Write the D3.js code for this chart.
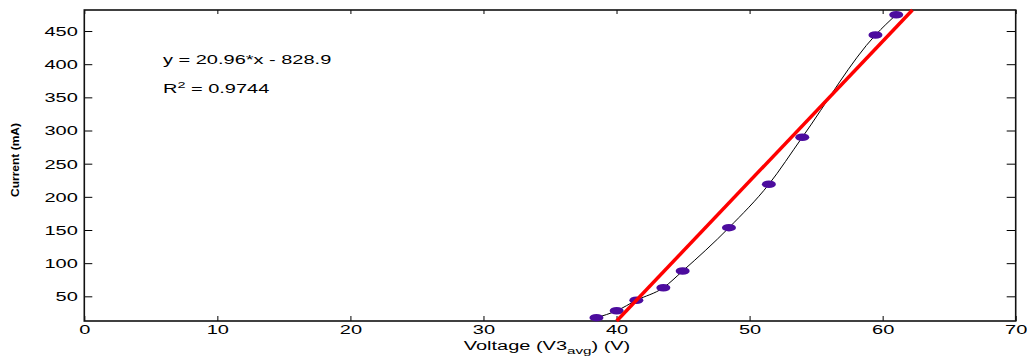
<!DOCTYPE html>
<html>
<head>
<meta charset="utf-8">
<script src="https://cdn.jsdelivr.net/npm/d3@7"></script>
<style>
  body { margin: 0; background: #fff; }
  text { font-family: "Liberation Sans", Arial, sans-serif; fill: #000; }
</style>
</head>
<body>
<div id="chart"></div>
<script>
// measured points (voltage V, current mA)
const voltage = [38.49, 40.01, 41.49, 43.52, 44.97, 48.45, 51.45, 53.96, 59.46, 61.02];
const current = [17.8, 28.3, 44.0, 63.0, 88.2, 153.5, 218.9, 289.8, 444.0, 474.6];
// linear fit, endpoints
const fitX = [40.01, 62.24];
const fitY = [12.8, 481.7];
const xTicks = [0, 10, 20, 30, 40, 50, 60, 70];
const yTicks = [50, 100, 150, 200, 250, 300, 350, 400, 450];
const eqText = "y = 20.96*x - 828.9";
const r2Value = "0.9744";

const W = 1027, H = 358;
const m = { left: 84.3, right: 1015.7, top: 10, bottom: 321 };
const SX = 1.6; // text in the picture is stretched sideways

const svg = d3.select("#chart").append("svg")
    .attr("width", W).attr("height", H);

const x = d3.scaleLinear().domain([0, 70]).range([m.left, m.right]);
const y = d3.scaleLinear().domain([12.8, 481.7]).range([m.bottom, m.top]);

// x axis (bottom), ticks inward
const gx = svg.append("g")
    .attr("transform", `translate(0,${m.bottom})`)
    .call(d3.axisBottom(x).tickValues(xTicks).tickSize(-5).tickPadding(0).tickSizeOuter(0));
gx.selectAll("text")
    .attr("y", 13)
    .attr("dy", "0")
    .style("font-size", "12.5px")
    .attr("transform", `scale(${SX},1)`);

// y axis (left), ticks inward
const gy = svg.append("g")
    .attr("transform", `translate(${m.left},0)`)
    .call(d3.axisLeft(y).tickValues(yTicks).tickSize(-8).tickSizeOuter(0));
gy.selectAll("text")
    .attr("x", -6.5 / SX)
    .attr("dy", "0.35em")
    .style("font-size", "12.5px")
    .attr("transform", `scale(${SX},1)`);

// top and right ticks
svg.append("g")
    .attr("transform", `translate(0,${m.top})`)
    .call(d3.axisTop(x).tickValues(xTicks).tickSize(-4).tickFormat("").tickSizeOuter(0));
svg.append("g")
    .attr("transform", `translate(${m.right},0)`)
    .call(d3.axisRight(y).tickValues(yTicks).tickSize(-9).tickFormat("").tickSizeOuter(0));

svg.selectAll(".domain").remove();
svg.selectAll(".tick line").attr("stroke", "#000").attr("stroke-width", 1);

// frame
svg.append("rect")
    .attr("x", m.left).attr("y", m.top)
    .attr("width", m.right - m.left).attr("height", m.bottom - m.top)
    .attr("fill", "none")
    .attr("stroke", "#111")
    .attr("stroke-width", 1.6);

const pts = voltage.map((v, i) => [v, current[i]]);

// smooth curve through the data
svg.append("path")
    .datum(pts)
    .attr("fill", "none")
    .attr("stroke", "#000")
    .attr("stroke-width", 1)
    .attr("d", d3.line().x(d => x(d[0])).y(d => y(d[1])).curve(d3.curveMonotoneX));

// data markers
svg.selectAll("ellipse.pt")
    .data(pts)
    .enter()
    .append("ellipse")
    .attr("class", "pt")
    .attr("cx", d => x(d[0]))
    .attr("cy", d => y(d[1]))
    .attr("rx", 7)
    .attr("ry", 3.8)
    .attr("fill", "#4c0c9e");

// linear fit
svg.append("path")
    .datum(fitX.map((v, i) => [v, fitY[i]]))
    .attr("fill", "none")
    .attr("stroke", "#ff0000")
    .attr("stroke-width", 3.5)
    .attr("d", d3.line().x(d => x(d[0])).y(d => y(d[1])));

// annotations
svg.append("text")
    .attr("transform", `translate(163,64) scale(${SX},1)`)
    .style("font-size", "12.5px")
    .text(eqText);

const r2 = svg.append("text")
    .attr("transform", `translate(163,93) scale(${SX},1)`)
    .style("font-size", "12.5px");
r2.append("tspan").text("R");
r2.append("tspan").attr("dy", -5).style("font-size", "9px").text("2");
r2.append("tspan").attr("dy", 5).text(" = " + r2Value);

// axis labels
const xl = svg.append("text")
    .attr("transform", `translate(547,349.5) scale(${SX},1)`)
    .attr("text-anchor", "middle")
    .style("font-size", "12.5px");
xl.append("tspan").text("Voltage (V3");
xl.append("tspan").attr("dy", 4).style("font-size", "9.5px").text("avg");
xl.append("tspan").attr("dy", -4).text(") (V)");

svg.append("text")
    .attr("transform", "translate(19,160) rotate(-90)")
    .attr("text-anchor", "middle")
    .attr("textLength", 74)
    .attr("lengthAdjust", "spacingAndGlyphs")
    .style("font-size", "11px")
    .style("font-weight", "bold")
    .text("Current (mA)");
</script>
</body>
</html>
